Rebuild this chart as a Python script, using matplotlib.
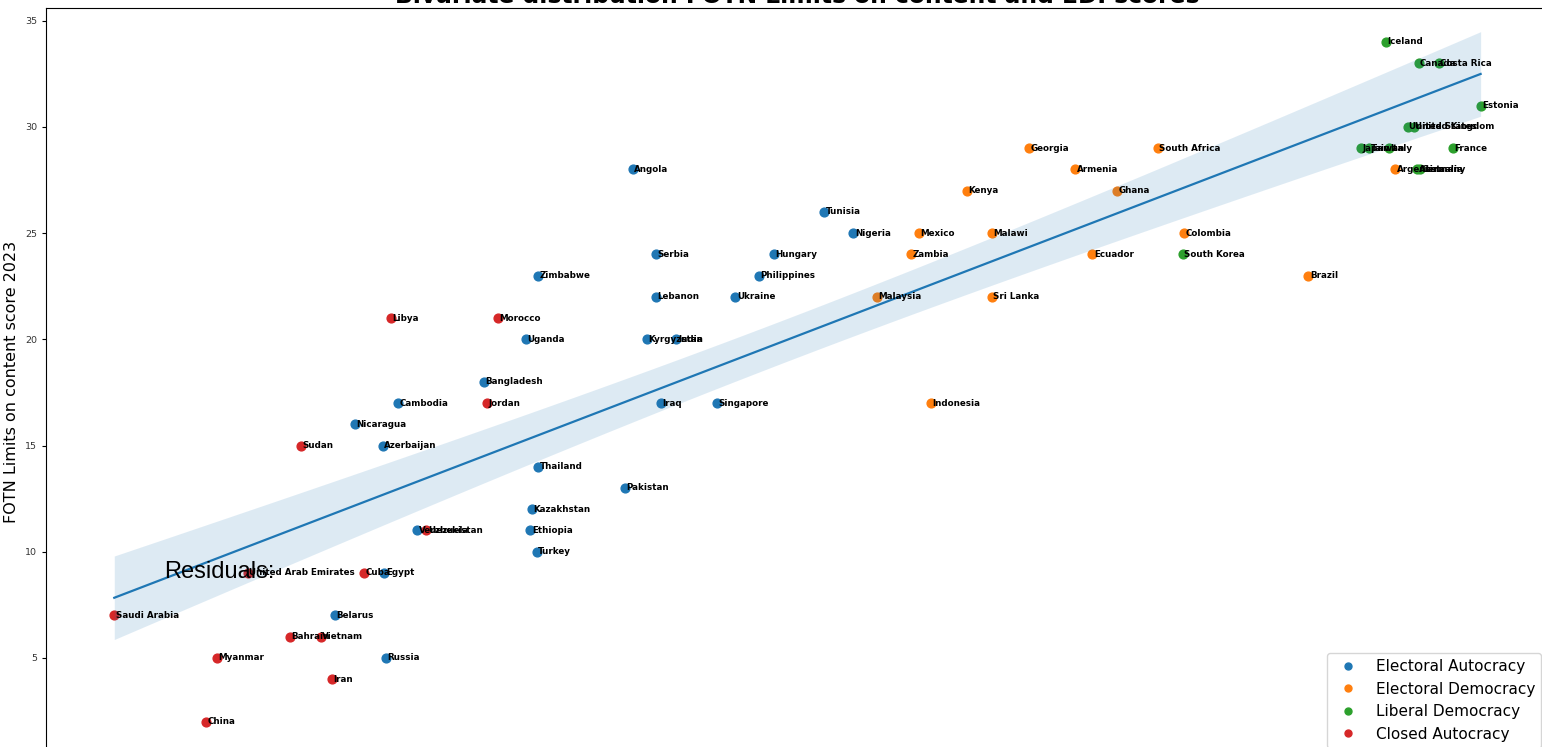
import numpy as np
import matplotlib
matplotlib.use("Agg")
import matplotlib.pyplot as plt
from matplotlib.lines import Line2D

# FOTN 2023 "Limits on content" vs. V-Dem electoral democracy index (EDI)
countries = [
    "Angola", "Tunisia", "Nigeria", "Serbia", "Hungary", "Zimbabwe", "Philippines",
    "Lebanon", "Ukraine", "Uganda", "Kyrgyzstan", "India", "Bangladesh", "Cambodia",
    "Iraq", "Singapore", "Nicaragua", "Azerbaijan", "Thailand", "Pakistan",
    "Kazakhstan", "Ethiopia", "Turkey", "Venezuela", "Egypt", "Belarus", "Russia",
    "Kenya", "Georgia", "Armenia", "South Africa", "Ghana", "Mexico", "Malawi",
    "Zambia", "Colombia", "Ecuador", "Brazil", "Malaysia", "Sri Lanka", "Indonesia",
    "Argentina",
    "Iceland", "Canada", "Costa Rica", "Estonia", "United States", "United Kingdom",
    "Japan", "Taiwan", "Italy", "France", "South Korea", "Australia", "Germany",
    "Libya", "Morocco", "Jordan", "Sudan", "Uzbekistan", "United Arab Emirates",
    "Cuba", "Saudi Arabia", "Bahrain", "Vietnam", "Myanmar", "Iran", "China",
]
edi = [
    0.354, 0.477, 0.496, 0.369, 0.445, 0.293, 0.435,
    0.369, 0.420, 0.285, 0.363, 0.382, 0.258, 0.203,
    0.372, 0.408, 0.175, 0.193, 0.293, 0.349,
    0.289, 0.288, 0.292, 0.215, 0.194, 0.162, 0.195,
    0.569, 0.609, 0.639, 0.692, 0.666, 0.538, 0.585,
    0.533, 0.709, 0.650, 0.789, 0.511, 0.585, 0.546,
    0.845,
    0.839, 0.860, 0.873, 0.900, 0.853, 0.857,
    0.823, 0.828, 0.841, 0.882, 0.708, 0.859, 0.861,
    0.198, 0.267, 0.260, 0.140, 0.221, 0.106,
    0.181, 0.020, 0.133, 0.153, 0.086, 0.160, 0.079,
]
limits_on_content = [
    28, 26, 25, 24, 24, 23, 23,
    22, 22, 20, 20, 20, 18, 17,
    17, 17, 16, 15, 14, 13,
    12, 11, 10, 11, 9, 7, 5,
    27, 29, 28, 29, 27, 25, 25,
    24, 25, 24, 23, 22, 22, 17,
    28,
    34, 33, 33, 31, 30, 30,
    29, 29, 29, 29, 24, 28, 28,
    21, 21, 17, 15, 11, 9,
    9, 7, 6, 6, 5, 4, 2,
]
regime = (["Electoral Autocracy"] * 27 + ["Electoral Democracy"] * 15
          + ["Liberal Democracy"] * 13 + ["Closed Autocracy"] * 13)

regime_order = ["Electoral Autocracy", "Electoral Democracy",
                "Liberal Democracy", "Closed Autocracy"]
regime_colors = ["#1f77b4", "#ff7f0e", "#2ca02c", "#d62728"]

x = np.array(edi)
y = np.array(limits_on_content, dtype=float)

fig = plt.figure(figsize=(15.42, 7.47), dpi=100)
ax = fig.add_axes([0.0298, -0.0115, 0.9747, 1.0008])

for name, color in zip(regime_order, regime_colors):
    mask = np.array([r == name for r in regime])
    ax.scatter(x[mask], y[mask], s=40, color=color, zorder=2)

# linear fit with 95% confidence band for the mean
slope, intercept = np.polyfit(x, y, 1)
grid = np.linspace(x.min(), x.max(), 100)
fit = intercept + slope * grid
n = len(x)
resid = y - (intercept + slope * x)
s_err = np.sqrt(np.sum(resid ** 2) / (n - 2))
sxx = np.sum((x - x.mean()) ** 2)
t_val = 1.994
half = t_val * s_err * np.sqrt(1.0 / n + (grid - x.mean()) ** 2 / sxx)
ax.fill_between(grid, fit - half, fit + half, color="#1f77b4", alpha=0.15,
                linewidth=0, zorder=3)
ax.plot(grid, fit, color="#1f77b4", linewidth=1.6, zorder=4)

for xi, yi, name in zip(x, y, countries):
    ax.text(xi + 0.001, yi, name, ha="left", va="center", fontsize=6.3,
            fontweight="bold", color="black", zorder=5)

ax.text(0.052, 8.75, "Residuals:", fontsize=17, family="Liberation Sans",
        ha="left", va="baseline", zorder=6)

ax.set_ylim(0.4, 35.6)
ax.set_title("Bivariate distribution FOTN Limits on content and EDI scores",
             fontsize=16.8, fontweight="bold", pad=2.5)
ax.set_ylabel("FOTN Limits on content score 2023", fontsize=11.5)
ax.set_yticks([5, 10, 15, 20, 25, 30, 35])
ax.tick_params(axis="y", labelsize=6.8, labelcolor="#333333", length=3)

handles = [Line2D([], [], marker="o", ls="", color=c, markersize=5)
           for c in regime_colors]
ax.legend(handles, regime_order, loc="lower right", fontsize=11)

fig.savefig("out.png", dpi=100)
